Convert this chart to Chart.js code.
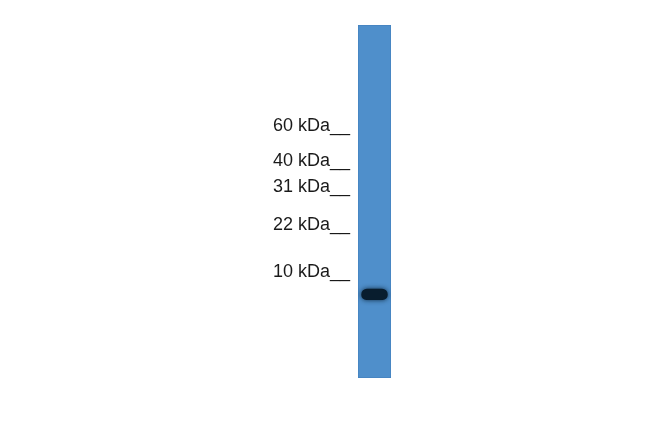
<!DOCTYPE html>
<html>
<head>
<meta charset="utf-8">
<script src="https://cdn.jsdelivr.net/npm/chart.js@4"></script>
<style>
  body { margin: 0; background: #fff; }
  canvas { display: block; }
</style>
</head>
<body>
<canvas id="blot" width="650" height="432"></canvas>
<script>
// lane categories and positions, in % of lane length from the top
const lanes = ['Sample'];
const laneRange = [[0, 100]];
const bandRange = [[74.7, 77.9]];

// marker ladder labels and where they sit on the lane
const markerLabels = ['60 kDa', '40 kDa', '31 kDa', '22 kDa', '10 kDa'];
const markerPos = [28.75, 38.6, 45.9, 56.8, 70.0];

// soft edge for the band, like a scanned film
const bandGlow = {
    id: 'bandGlow',
    beforeDatasetDraw(chart, args) {
        if (args.index !== 0) return;
        chart.ctx.save();
        chart.ctx.shadowColor = 'rgba(8, 30, 48, 0.9)';
        chart.ctx.shadowBlur = 5;
    },
    afterDatasetDraw(chart, args) {
        if (args.index !== 0) return;
        chart.ctx.restore();
    }
};

const ctx = document.getElementById('blot').getContext('2d');

const chart = new Chart(ctx, {
    type: 'bar',
    data: {
        labels: lanes,
        datasets: [
            {
                label: 'band',
                data: bandRange,
                backgroundColor: '#081d2e',
                borderRadius: { topLeft: 14, topRight: 14, bottomLeft: 5, bottomRight: 5 },
                borderSkipped: false,
                barPercentage: 0.8,
                categoryPercentage: 1,
                grouped: false,
                order: 0
            },
            {
                label: 'lane',
                data: laneRange,
                backgroundColor: '#4f8fcb',
                borderColor: '#4482bf',
                borderWidth: 1,
                borderSkipped: false,
                barPercentage: 1,
                categoryPercentage: 1,
                grouped: false,
                order: 1
            }
        ]
    },
    options: {
        responsive: false,
        animation: false,
        layout: { padding: { left: 0, right: 259, top: 25, bottom: 54 } },
        plugins: {
            legend: { display: false },
            tooltip: { enabled: false }
        },
        scales: {
            x: { display: false },
            y: {
                reverse: true,
                min: 0,
                max: 100,
                grid: { display: false },
                border: { display: false },
                afterBuildTicks: function(scale) {
                    scale.ticks = markerPos.map(v => ({ value: v }));
                },
                afterFit: function(scale) {
                    scale.width = 358;
                },
                ticks: {
                    autoSkip: false,
                    padding: 0,
                    color: '#1a1a1a',
                    font: { family: 'Liberation Sans', size: 18 },
                    callback: function(value, index) {
                        return markerLabels[index] + '__';
                    }
                }
            }
        }
    },
    plugins: [bandGlow]
});
</script>
</body>
</html>
